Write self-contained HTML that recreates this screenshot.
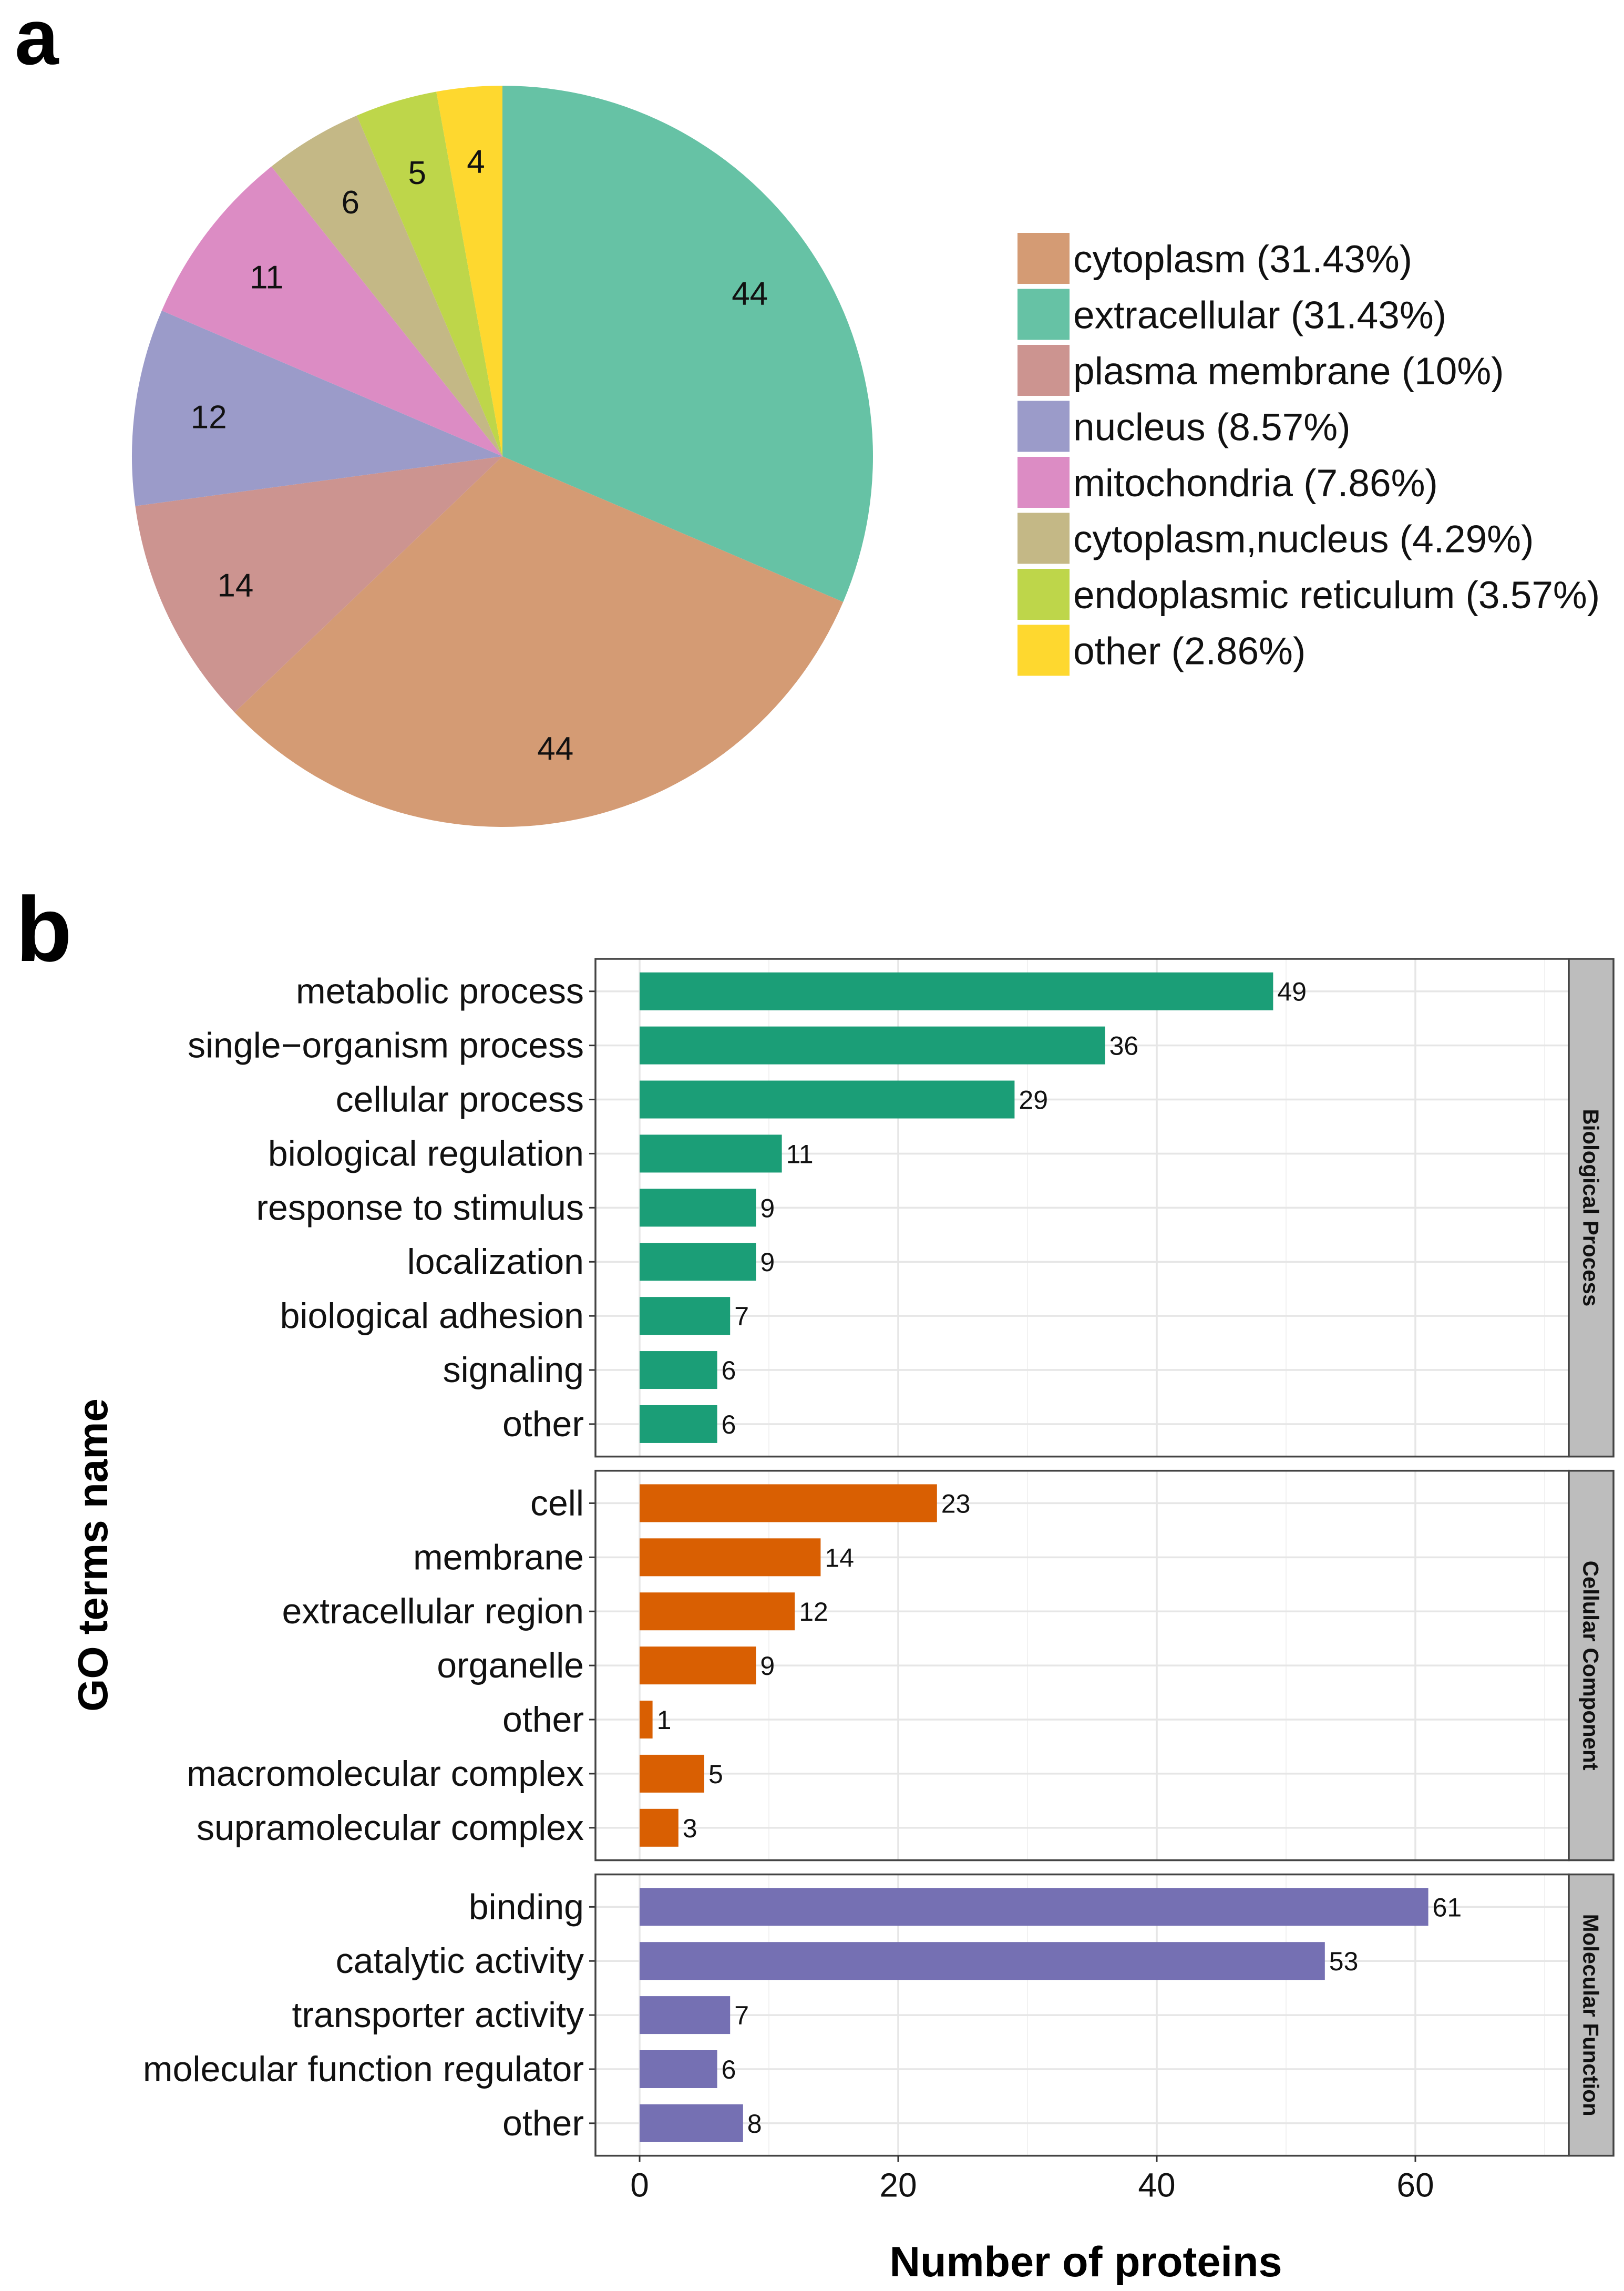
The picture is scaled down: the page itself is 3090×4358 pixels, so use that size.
<!DOCTYPE html>
<html><head><meta charset="utf-8"><style>
html,body{margin:0;padding:0;background:#fff;}
svg{display:block;font-family:"Liberation Sans",sans-serif;}
</style></head><body>
<svg id="fig" width="3090" height="4358" viewBox="0 0 3090 4358" xmlns="http://www.w3.org/2000/svg">
<rect width="3090" height="4358" fill="#fff"/>
<text x="28" y="122" font-size="150" font-weight="bold">a</text>
<text x="30" y="1828" font-size="175" font-weight="bold">b</text>
<g id="pie"></g>
<g id="legend"></g>
<g id="bars"></g>
</svg>
<script>
// ---- Pie data (clockwise from top) ----
const pieCats = ["extracellular","cytoplasm","plasma membrane","nucleus","mitochondria","cytoplasm,nucleus","endoplasmic reticulum","other"];
const pieVals = [44,44,14,12,11,6,5,4];
const pieColors = ["#66c2a5","#d49b74","#cc9490","#9b9bc9","#dc8cc4","#c4b886","#bed64a","#fed82f"];
// ---- Legend ----
const legCats = ["cytoplasm (31.43%)","extracellular (31.43%)","plasma membrane (10%)","nucleus (8.57%)","mitochondria (7.86%)","cytoplasm,nucleus (4.29%)","endoplasmic reticulum (3.57%)","other (2.86%)"];
const legColors = ["#d49b74","#66c2a5","#cc9490","#9b9bc9","#dc8cc4","#c4b886","#bed64a","#fed82f"];
// ---- Bar data ----
const bpCats = ["metabolic process","single\u2212organism process","cellular process","biological regulation","response to stimulus","localization","biological adhesion","signaling","other"];
const bpVals = [49,36,29,11,9,9,7,6,6];
const ccCats = ["cell","membrane","extracellular region","organelle","other","macromolecular complex","supramolecular complex"];
const ccVals = [23,14,12,9,1,5,3];
const mfCats = ["binding","catalytic activity","transporter activity","molecular function regulator","other"];
const mfVals = [61,53,7,6,8];
const xTicks = [0,20,40,60];
const xMinor = [10,30,50,70];

const NS="http://www.w3.org/2000/svg";
function mk(tag,attrs,parent){const e=document.createElementNS(NS,tag);for(const k in attrs)e.setAttribute(k,attrs[k]);parent.appendChild(e);return e;}

// Pie
const pie=document.getElementById('pie');
const cx=956,cy=868,R=705;
const tot=pieVals.reduce((a,b)=>a+b,0);
let acc=0;
pieVals.forEach((v,i)=>{
  const a0=acc/tot*2*Math.PI, a1=(acc+v)/tot*2*Math.PI; acc+=v;
  const x0=cx+R*Math.sin(a0),y0=cy-R*Math.cos(a0),x1=cx+R*Math.sin(a1),y1=cy-R*Math.cos(a1);
  const large=(a1-a0)>Math.PI?1:0;
  const p=mk('path',{d:`M${cx},${cy} L${x0},${y0} A${R},${R} 0 ${large} 1 ${x1},${y1} Z`,fill:pieColors[i]},pie);
  
  
  const am=(a0+a1)/2;
  const t=mk('text',{x:cx+0.8*R*Math.sin(am),y:cy-0.8*R*Math.cos(am)+22,'font-size':62,'text-anchor':'middle',fill:'#111'},pie);
  t.textContent=v;
  
  
});

// Legend
const leg=document.getElementById('legend');
legCats.forEach((c,i)=>{
  const y=443+i*106.5;
  const r=mk('rect',{x:1936,y:y,width:99,height:97,fill:legColors[i]},leg);
  
  
  const t=mk('text',{x:2042,y:y+75,'font-size':73,fill:'#111'},leg);
  t.textContent=c;
  
  
});

// Bars
const g=document.getElementById('bars');
const X0=1217,PX=24.6,L=1133,Rr=2985,SR=3070,ROW=102.9,GAP=27;
const xs=v=>X0+v*PX;
const panels=[
 {cats:bpCats,vals:bpVals,color:"#1b9e77",strip:"Biological Process"},
 {cats:ccCats,vals:ccVals,color:"#d95f02",strip:"Cellular Component"},
 {cats:mfCats,vals:mfVals,color:"#7570b3",strip:"Molecular Function"}];
let yTop=1824;
panels.forEach(P=>{
  const h=(P.cats.length+0.2)*ROW;
  const pg=mk('g',{},g);
  
  
  xMinor.forEach(v=>{const l=mk('line',{x1:xs(v),x2:xs(v),y1:yTop,y2:yTop+h,stroke:'#f2f2f2','stroke-width':2},pg);
    });
  xTicks.forEach(v=>{const l=mk('line',{x1:xs(v),x2:xs(v),y1:yTop,y2:yTop+h,stroke:'#e6e6e6','stroke-width':3.5},pg);
    });
  P.cats.forEach((c,i)=>{
    const yc=yTop+(0.6+i)*ROW;
    const gl=mk('line',{x1:L,x2:Rr,y1:yc,y2:yc,stroke:'#e6e6e6','stroke-width':3.5},pg);
    
    const b=mk('rect',{x:xs(0),y:yc-36,width:xs(P.vals[i])-xs(0),height:72,fill:P.color},pg);
    
    
    const vt=mk('text',{x:xs(P.vals[i])+8,y:yc+18,'font-size':50,fill:'#111'},pg);
    vt.textContent=P.vals[i];
    
    const tk=mk('line',{x1:L-12,x2:L,y1:yc,y2:yc,stroke:'#333','stroke-width':3},pg);
    
    const lt=mk('text',{x:L-22,y:yc+23,'font-size':68,'text-anchor':'end',fill:'#111'},pg);
    lt.textContent=c;
    
  });
  const bd=mk('rect',{x:L,y:yTop,width:Rr-L,height:h,fill:'none',stroke:'#444','stroke-width':3.5},pg);
  
  const st=mk('rect',{x:Rr,y:yTop,width:SR-Rr,height:h,fill:'#bdbdbd',stroke:'#444','stroke-width':3.5},pg);
  
  const sx=(Rr+SR)/2, sy=yTop+h/2;
  const stt=mk('text',{x:sx,y:sy,'font-size':42,'font-weight':'bold','text-anchor':'middle',transform:`rotate(90 ${sx} ${sy}) translate(0 15)`,fill:'#111'},pg);
  stt.textContent=P.strip;
  
  yTop+=h+GAP;
});
const yBottom=yTop-GAP;
xTicks.forEach(v=>{
  const tk=mk('line',{x1:xs(v),x2:xs(v),y1:yBottom,y2:yBottom+12,stroke:'#333','stroke-width':3},g);
  
  const t=mk('text',{x:xs(v),y:yBottom+78,'font-size':64,'text-anchor':'middle',fill:'#111'},g);
  t.textContent=v;
  
});
const xt=mk('text',{x:2066,y:4330,'font-size':81,'font-weight':'bold','text-anchor':'middle',fill:'#000'},g);
xt.textContent="Number of proteins";

const yt=mk('text',{x:176,y:2958,'font-size':80,'font-weight':'bold','text-anchor':'middle',transform:'rotate(-90 176 2958) translate(0 28)',fill:'#000'},g);
yt.textContent="GO terms name";

</script>
</body></html>
